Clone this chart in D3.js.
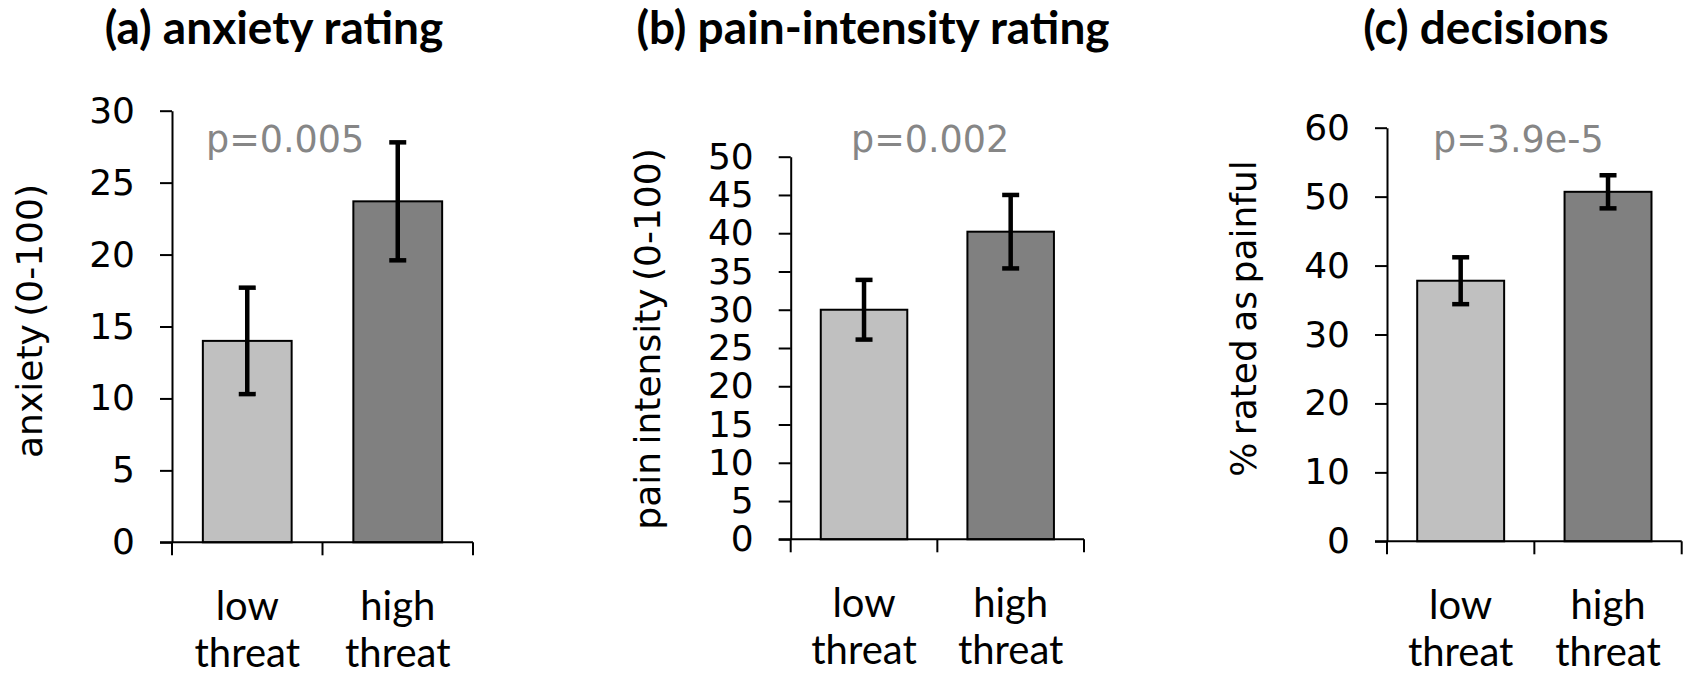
<!DOCTYPE html>
<html>
<head>
<meta charset="utf-8">
<script src="https://cdn.jsdelivr.net/npm/d3@7"></script>
<style>
body { margin: 0; background: #fff; }
svg { display: block; }
</style>
</head>
<body>
<div id="chart"></div>
<script>
// data
const categories = ["low threat", "high threat"];
const panelTitles = ["(a) anxiety rating", "(b) pain-intensity rating", "(c) decisions"];
const yLabels = ["anxiety (0-100)", "pain intensity (0-100)", "% rated as painful"];
const pLabels = ["p=0.005", "p=0.002", "p=3.9e-5"];

const anxietyMeans = [14.0, 23.7];
const anxietyErrors = [3.7, 4.1];
const painMeans = [30.0, 40.2];
const painErrors = [3.9, 4.8];
const decisionMeans = [37.8, 50.7];
const decisionErrors = [3.4, 2.4];

const anxietyTicks = [0, 5, 10, 15, 20, 25, 30];
const painTicks = [0, 5, 10, 15, 20, 25, 30, 35, 40, 45, 50];
const decisionTicks = [0, 10, 20, 30, 40, 50, 60];

const barColors = ["#c0c0c0", "#808080"];

const series = [
	{ means: anxietyMeans, errors: anxietyErrors, ticks: anxietyTicks },
	{ means: painMeans, errors: painErrors, ticks: painTicks },
	{ means: decisionMeans, errors: decisionErrors, ticks: decisionTicks }
];

// pixel frame of each panel
const frames = [
	{ left: 172, right: 473, top: 110.7, bottom: 542.3, titleX: 274, pX: 206, labelX: 42, labelY: 321 },
	{ left: 790.7, right: 1084, top: 156.7, bottom: 539.3, titleX: 873, pX: 851, labelX: 660, labelY: 339 },
	{ left: 1387, right: 1681.7, top: 127.7, bottom: 541.3, titleX: 1486, pX: 1433, labelX: 1256, labelY: 318.5 }
];

const svg = d3.select("#chart").append("svg")
	.attr("width", 1685)
	.attr("height", 673);

function drawPanel(s, f, i){
	const g = svg.append("g").attr("class", "panel" + i);

	const x = d3.scaleBand()
		.domain(categories)
		.range([f.left, f.right])
		.paddingInner(0.41)
		.paddingOuter(0.205);

	const y = d3.scaleLinear()
		.domain([0, d3.max(s.ticks)])
		.range([f.bottom, f.top]);

	const rows = categories.map((c, k) => ({ cat: c, mean: s.means[k], err: s.errors[k], color: barColors[k] }));

	// bars
	g.selectAll("rect.bar")
		.data(rows)
		.enter()
		.append("rect")
		.attr("class", "bar")
		.attr("x", d => x(d.cat))
		.attr("width", x.bandwidth())
		.attr("y", d => y(d.mean))
		.attr("height", d => y(0) - y(d.mean))
		.attr("fill", d => d.color)
		.attr("stroke", "#000")
		.attr("stroke-width", 2);

	// error bars
	const cx = d => x(d.cat) + x.bandwidth() / 2;
	const eb = g.selectAll("g.err").data(rows).enter().append("g").attr("class", "err")
		.attr("stroke", "#000").attr("stroke-width", 4.5);
	eb.append("line")
		.attr("x1", cx).attr("x2", cx)
		.attr("y1", d => y(d.mean - d.err)).attr("y2", d => y(d.mean + d.err));
	eb.append("line")
		.attr("x1", d => cx(d) - 8.5).attr("x2", d => cx(d) + 8.5)
		.attr("y1", d => y(d.mean + d.err)).attr("y2", d => y(d.mean + d.err));
	eb.append("line")
		.attr("x1", d => cx(d) - 8.5).attr("x2", d => cx(d) + 8.5)
		.attr("y1", d => y(d.mean - d.err)).attr("y2", d => y(d.mean - d.err));

	// y axis
	const yAxis = g.append("g")
		.attr("transform", `translate(${f.left},0)`)
		.call(d3.axisLeft(y).tickValues(s.ticks).tickSize(12).tickSizeOuter(0).tickPadding(25))
		.attr("font-family", "'DejaVu Sans', sans-serif")
		.attr("font-size", 36);
	yAxis.selectAll("path, line").attr("stroke-width", 2);

	// x axis: baseline plus ticks between the categories
	const step = x.step();
	const bounds = d3.range(categories.length + 1).map(k => x.range()[0] + k * step);
	g.append("line")
		.attr("x1", f.left - 12).attr("x2", bounds[bounds.length - 1])
		.attr("y1", y(0)).attr("y2", y(0))
		.attr("stroke", "#000").attr("stroke-width", 2);
	g.selectAll("line.xtick")
		.data(bounds)
		.enter()
		.append("line")
		.attr("class", "xtick")
		.attr("x1", d => d).attr("x2", d => d)
		.attr("y1", y(0)).attr("y2", y(0) + 13)
		.attr("stroke", "#000").attr("stroke-width", 2);

	// category labels on two lines
	const cl = g.selectAll("text.cat")
		.data(rows)
		.enter()
		.append("text")
		.attr("class", "cat")
		.attr("text-anchor", "middle")
		.attr("font-family", "Lato, sans-serif")
		.attr("font-size", 40)
		.attr("fill", "#000");
	cl.selectAll("tspan")
		.data(d => d.cat.split(" ").map(w => ({ w, x: cx(d) })))
		.enter()
		.append("tspan")
		.attr("x", d => d.x)
		.attr("y", (d, k) => y(0) + 78 + k * 47)
		.text(d => d.w);

	// y label
	g.append("text")
		.attr("transform", `translate(${f.labelX},${f.labelY}) rotate(-90)`)
		.attr("text-anchor", "middle")
		.attr("font-family", "'DejaVu Sans', sans-serif")
		.attr("font-size", 36)
		.attr("word-spacing", -4)
		.text(yLabels[i]);

	// p value
	g.append("text")
		.attr("x", f.pX)
		.attr("y", 152)
		.attr("font-family", "'DejaVu Sans', sans-serif")
		.attr("font-size", 36.5)
		.attr("fill", "#868686")
		.text(pLabels[i]);

	// title
	g.append("text")
		.attr("x", f.titleX)
		.attr("y", 44)
		.attr("text-anchor", "middle")
		.attr("font-family", "Lato, sans-serif")
		.attr("font-weight", 700)
		.attr("font-size", 46)
		.text(panelTitles[i]);
}

series.forEach((s, i) => drawPanel(s, frames[i], i));
</script>
</body>
</html>
